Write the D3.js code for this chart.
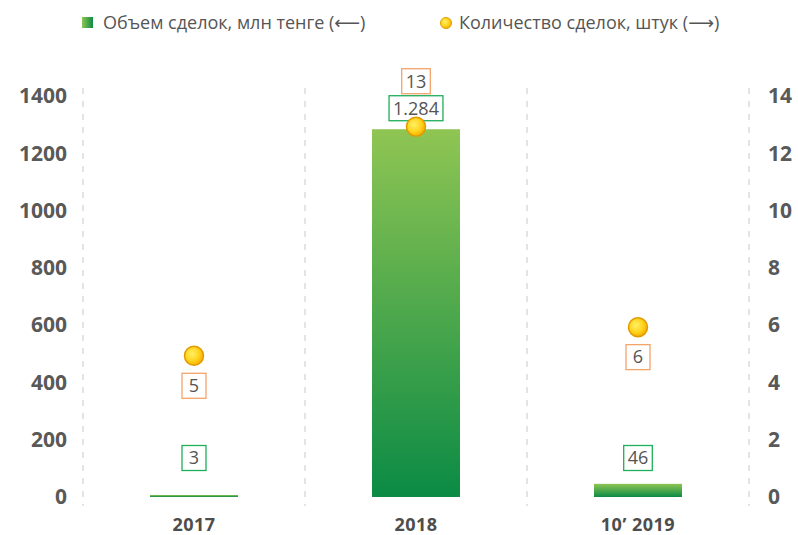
<!DOCTYPE html>
<html>
<head>
<meta charset="utf-8">
<script src="https://cdn.jsdelivr.net/npm/d3@7"></script>
<style>
  body { margin: 0; background: #fff; }
  svg text { font-family: "Open Sans", "DejaVu Sans", sans-serif; }
</style>
</head>
<body>
<div id="chart"></div>
<script>
// data
var categories = ["2017", "2018", "10’ 2019"];
var volume = [3, 1284, 46];              // млн тенге (left axis)
var volumeLabels = ["3", "1.284", "46"];
var deals = [5, 13, 6];                  // штук (right axis)
var leftTicks = [0, 200, 400, 600, 800, 1000, 1200, 1400];
var rightTicks = [0, 2, 4, 6, 8, 10, 12, 14];
var legendLabels = ["Объем сделок, млн тенге (\u27F5)", "Количество сделок, штук (\u27F6)"];

var W = 798, H = 535;
var svg = d3.select("#chart").append("svg")
    .attr("width", W).attr("height", H);

var defs = svg.append("defs");
var barGrad = defs.append("linearGradient").attr("id", "barGrad")
    .attr("x1", 0).attr("y1", 0).attr("x2", 0).attr("y2", 1);
barGrad.append("stop").attr("offset", "0%").attr("stop-color", "#8fc553");
barGrad.append("stop").attr("offset", "100%").attr("stop-color", "#0b8b45");

var legGrad = defs.append("linearGradient").attr("id", "legGrad")
    .attr("x1", 0).attr("y1", 0).attr("x2", 1).attr("y2", 0);
legGrad.append("stop").attr("offset", "0%").attr("stop-color", "#8fc553");
legGrad.append("stop").attr("offset", "100%").attr("stop-color", "#0b8b45");

var dotGrad = defs.append("radialGradient").attr("id", "dotGrad")
    .attr("cx", "40%").attr("cy", "40%").attr("r", "65%");
dotGrad.append("stop").attr("offset", "0%").attr("stop-color", "#fff066");
dotGrad.append("stop").attr("offset", "60%").attr("stop-color", "#ffd21a");
dotGrad.append("stop").attr("offset", "100%").attr("stop-color", "#f2a900");

var x = d3.scaleBand().domain(categories).range([83, 749]).padding(0);
var yL = d3.scaleLinear().domain([0, 1400]).range([497, 96]);
var yR = d3.scaleLinear().domain([0, 14]).range([497, 96]);

// dashed separators
var seps = x.domain().map(function(d) { return x(d); }).concat([x.range()[1]]);
svg.selectAll("line.sep").data(seps).enter().append("line")
    .attr("class", "sep")
    .attr("x1", function(d) { return d; }).attr("x2", function(d) { return d; })
    .attr("y1", 88).attr("y2", 506)
    .attr("stroke", "#c8c8c8").attr("stroke-width", 1)
    .attr("stroke-dasharray", "6,7");

// axes
var axisL = svg.append("g").attr("transform", "translate(67,0)")
    .call(d3.axisLeft(yL).tickValues(leftTicks).tickFormat(d3.format("d")).tickSize(0).tickPadding(0));
var axisR = svg.append("g").attr("transform", "translate(768,0)")
    .call(d3.axisRight(yR).tickValues(rightTicks).tickFormat(d3.format("d")).tickSize(0).tickPadding(0));
[axisL, axisR].forEach(function(a) {
    a.select(".domain").remove();
    a.selectAll("text")
        .attr("font-size", "21px").attr("font-weight", "700")
        .attr("fill", "#595959")
        .style("font-family", "'Open Sans', sans-serif");
});

var xAxis = svg.append("g").attr("transform", "translate(0,518)")
    .call(d3.axisBottom(x).tickSize(0).tickPadding(0));
xAxis.select(".domain").remove();
xAxis.selectAll("text")
    .attr("font-size", "18px").attr("font-weight", "700")
    .attr("fill", "#4d4d4d")
    .attr("letter-spacing", "0.5px")
    .style("font-family", "'Open Sans', sans-serif");

// bars
var barW = 88;
svg.selectAll("rect.bar").data(volume).enter().append("rect")
    .attr("class", "bar")
    .attr("x", function(d, i) { return x(categories[i]) + x.bandwidth() / 2 - barW / 2; })
    .attr("y", function(d) { return Math.min(yL(d), yL(0) - 2); })
    .attr("width", barW)
    .attr("height", function(d) { return Math.max(yL(0) - yL(d), 2); })
    .attr("fill", "url(#barGrad)");

// boxed label helper
function boxLabel(cx, cy, txt, color) {
    var g = svg.append("g");
    var t = g.append("text").attr("x", cx).attr("y", cy)
        .attr("text-anchor", "middle").attr("dy", "0.35em")
        .attr("font-size", "18px").attr("fill", "#555")
        .text(txt);
    var bb = t.node().getBBox();
    var w = Math.max(bb.width + 8, 24);
    g.insert("rect", "text")
        .attr("x", cx - w / 2).attr("y", cy - 12.5)
        .attr("width", w).attr("height", 25)
        .attr("fill", "#fff").attr("stroke", color).attr("stroke-width", 1.3);
}

// volume labels
volume.forEach(function(v, i) {
    var cx = x(categories[i]) + x.bandwidth() / 2;
    var cy = Math.min(yL(v) - 21, yL(0) - 39);
    boxLabel(cx, cy, volumeLabels[i], "#1fae5a");
});

// dots
svg.selectAll("circle.dot").data(deals).enter().append("circle")
    .attr("class", "dot")
    .attr("cx", function(d, i) { return x(categories[i]) + x.bandwidth() / 2; })
    .attr("cy", function(d) { return yR(d) + 2; })
    .attr("r", 9.5)
    .attr("fill", "url(#dotGrad)")
    .attr("stroke", "#e39a00").attr("stroke-width", 1.5);

// deal labels: below the dot, or above the bar label when the dot sits on the bar
deals.forEach(function(d, i) {
    var cx = x(categories[i]) + x.bandwidth() / 2;
    var dotY = yR(d) + 2;
    var onBar = Math.abs(dotY - yL(volume[i])) < 20;
    var cy = onBar ? yL(volume[i]) - 48 : dotY + 30;
    boxLabel(cx, cy, d, "#f4a46a");
});

// legend
var leg = svg.append("g");
leg.append("rect").attr("x", 82).attr("y", 17).attr("width", 11).attr("height", 11)
    .attr("fill", "url(#legGrad)");
leg.append("text").attr("x", 103).attr("y", 29)
    .attr("font-size", "18px").attr("fill", "#555").text(legendLabels[0]);
leg.append("circle").attr("cx", 446).attr("cy", 23).attr("r", 5.5)
    .attr("fill", "url(#dotGrad)").attr("stroke", "#e39a00").attr("stroke-width", 1);
leg.append("text").attr("x", 459).attr("y", 29)
    .attr("font-size", "18px").attr("fill", "#555").text(legendLabels[1]);
</script>
</body>
</html>
